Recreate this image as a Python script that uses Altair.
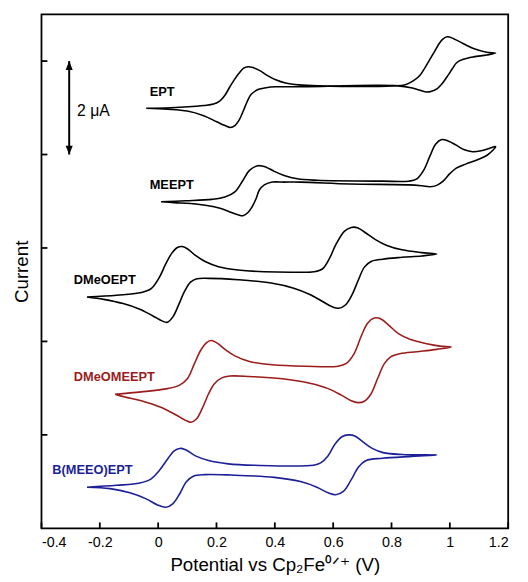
import altair as alt
import pandas as pd

FONT = "Liberation Sans"

SERIES = ["EPT", "MEEPT", "DMeOEPT", "DMeOMEEPT", "B(MEEO)EPT"]
COLORS = ["#000000", "#000000", "#000000", "#9b1c1c", "#1c1f96"]

# potential (V vs Cp2Fe0/+) and current (uA, offset): forward sweep then return sweep
EPT_FWD_V = [-0.041, 0.043, 0.156, 0.190, 0.212, 0.229, 0.246, 0.263, 0.280, 0.293, 0.308, 0.325, 0.347, 0.375, 0.403, 0.437, 0.482, 0.550, 0.808, 0.845, 0.873, 0.897, 0.914, 0.932, 0.950, 0.964, 0.976, 0.991, 1.013, 1.047, 1.081, 1.126, 1.157]
EPT_FWD_I = [8.99, 9.00, 9.05, 9.08, 9.15, 9.27, 9.45, 9.62, 9.76, 9.85, 9.88, 9.86, 9.80, 9.69, 9.60, 9.53, 9.49, 9.47, 9.47, 9.49, 9.57, 9.69, 9.85, 10.04, 10.23, 10.38, 10.47, 10.52, 10.48, 10.37, 10.27, 10.19, 10.17]
EPT_REV_V = [1.126, 1.081, 1.047, 1.024, 1.008, 0.991, 0.974, 0.957, 0.935, 0.918, 0.895, 0.867, 0.822, 0.743, 0.471, 0.403, 0.370, 0.342, 0.319, 0.305, 0.291, 0.277, 0.263, 0.248, 0.229, 0.201, 0.156, 0.100, 0.032, -0.041]
EPT_REV_I = [10.13, 10.09, 10.04, 9.97, 9.83, 9.67, 9.52, 9.41, 9.35, 9.34, 9.38, 9.43, 9.47, 9.48, 9.45, 9.45, 9.43, 9.39, 9.29, 9.13, 8.92, 8.73, 8.62, 8.58, 8.62, 8.70, 8.83, 8.93, 8.97, 8.99]

MEEPT_FWD_V = [0.010, 0.094, 0.184, 0.229, 0.263, 0.291, 0.313, 0.342, 0.370, 0.398, 0.432, 0.477, 0.544, 0.769, 0.859, 0.887, 0.910, 0.932, 0.951, 0.972, 0.994, 1.022, 1.050, 1.078, 1.107, 1.135, 1.157]
MEEPT_FWD_I = [6.99, 7.01, 7.04, 7.09, 7.20, 7.45, 7.66, 7.76, 7.73, 7.64, 7.55, 7.48, 7.45, 7.43, 7.43, 7.48, 7.66, 7.97, 8.22, 8.32, 8.29, 8.20, 8.10, 8.06, 8.08, 8.13, 8.17]
MEEPT_REV_V = [1.129, 1.095, 1.056, 1.022, 1.000, 0.977, 0.955, 0.932, 0.904, 0.859, 0.657, 0.488, 0.432, 0.392, 0.364, 0.347, 0.336, 0.322, 0.308, 0.291, 0.274, 0.251, 0.212, 0.167, 0.111, 0.055, 0.010]
MEEPT_REV_I = [7.99, 7.89, 7.80, 7.71, 7.59, 7.43, 7.34, 7.31, 7.33, 7.35, 7.37, 7.41, 7.41, 7.41, 7.35, 7.24, 7.06, 6.88, 6.76, 6.69, 6.71, 6.76, 6.85, 6.91, 6.95, 6.97, 6.99]

DMEOEPT_FWD_V = [-0.244, -0.142, -0.063, -0.024, 0.004, 0.026, 0.047, 0.066, 0.083, 0.103, 0.128, 0.161, 0.207, 0.274, 0.364, 0.477, 0.533, 0.563, 0.586, 0.610, 0.639, 0.662, 0.685, 0.712, 0.745, 0.782, 0.836, 0.904, 0.955]
DMEOEPT_FWD_I = [4.95, 4.99, 5.04, 5.13, 5.37, 5.66, 5.89, 6.01, 6.03, 5.97, 5.84, 5.71, 5.60, 5.53, 5.49, 5.48, 5.49, 5.55, 5.76, 6.08, 6.36, 6.44, 6.43, 6.32, 6.18, 6.06, 5.96, 5.90, 5.87]
DMEOEPT_REV_V = [0.904, 0.836, 0.769, 0.730, 0.707, 0.686, 0.664, 0.642, 0.619, 0.597, 0.562, 0.522, 0.465, 0.387, 0.274, 0.173, 0.133, 0.111, 0.092, 0.072, 0.051, 0.032, 0.013, -0.019, -0.063, -0.120, -0.187, -0.244]
DMEOEPT_REV_I = [5.83, 5.80, 5.76, 5.71, 5.59, 5.31, 4.99, 4.78, 4.71, 4.74, 4.86, 5.00, 5.14, 5.25, 5.32, 5.35, 5.34, 5.27, 5.09, 4.81, 4.53, 4.41, 4.44, 4.55, 4.69, 4.81, 4.90, 4.95]

DMEOMEEPT_FWD_V = [-0.148, -0.058, 0.032, 0.072, 0.100, 0.124, 0.145, 0.165, 0.181, 0.201, 0.229, 0.263, 0.313, 0.392, 0.505, 0.617, 0.645, 0.671, 0.696, 0.718, 0.741, 0.764, 0.792, 0.825, 0.865, 0.921, 0.966, 1.005]
DMEOMEEPT_FWD_I = [2.87, 2.92, 2.99, 3.06, 3.20, 3.52, 3.80, 3.97, 4.02, 3.97, 3.83, 3.69, 3.57, 3.50, 3.47, 3.47, 3.53, 3.73, 4.11, 4.39, 4.50, 4.48, 4.34, 4.16, 4.04, 3.95, 3.90, 3.88]
DMEOMEEPT_REV_V = [0.955, 0.887, 0.831, 0.797, 0.775, 0.752, 0.730, 0.707, 0.685, 0.662, 0.628, 0.583, 0.516, 0.426, 0.313, 0.246, 0.218, 0.192, 0.173, 0.150, 0.131, 0.113, 0.094, 0.060, 0.009, -0.058, -0.114, -0.148]
DMEOMEEPT_REV_I = [3.83, 3.78, 3.74, 3.67, 3.52, 3.20, 2.88, 2.72, 2.69, 2.73, 2.85, 2.99, 3.11, 3.20, 3.25, 3.26, 3.22, 3.09, 2.88, 2.55, 2.34, 2.27, 2.31, 2.43, 2.59, 2.73, 2.81, 2.87]

BMEEOEPT_FWD_V = [-0.244, -0.142, -0.063, -0.024, 0.004, 0.032, 0.055, 0.074, 0.094, 0.128, 0.173, 0.240, 0.330, 0.533, 0.557, 0.582, 0.606, 0.630, 0.653, 0.676, 0.702, 0.734, 0.771, 0.836, 0.955]
BMEEOEPT_FWD_I = [0.88, 0.92, 0.97, 1.06, 1.24, 1.48, 1.66, 1.71, 1.68, 1.55, 1.45, 1.38, 1.35, 1.35, 1.40, 1.55, 1.80, 1.96, 2.00, 1.97, 1.85, 1.71, 1.62, 1.58, 1.57]
BMEEOEPT_REV_V = [0.870, 0.769, 0.713, 0.687, 0.661, 0.635, 0.609, 0.583, 0.544, 0.488, 0.398, 0.251, 0.161, 0.122, 0.096, 0.074, 0.051, 0.026, -0.002, -0.041, -0.097, -0.165, -0.244]
BMEEOEPT_REV_I = [1.54, 1.50, 1.45, 1.31, 1.03, 0.79, 0.72, 0.76, 0.88, 1.00, 1.09, 1.14, 1.15, 1.12, 0.99, 0.74, 0.53, 0.45, 0.50, 0.63, 0.76, 0.85, 0.88]

# curve labels (left edge, vertical centre)
LABEL_V = [-0.029, -0.029, -0.289, -0.289, -0.363]
LABEL_I = [9.33, 7.35, 5.31, 3.24, 1.24]

# scale bar (2 uA)
BAR_V = -0.305
BAR_I = [8.0, 10.0]
BAR_TEXT = "2 μA"
BAR_TEXT_V = -0.278
BAR_TEXT_I = 8.94

X_TICKS = [-0.4, -0.2, 0.0, 0.2, 0.4, 0.6, 0.8, 1.0, 1.2]
Y_TICKS = [2, 4, 6, 8, 10]

curves = [
    ("EPT", EPT_FWD_V + EPT_REV_V, EPT_FWD_I + EPT_REV_I),
    ("MEEPT", MEEPT_FWD_V + MEEPT_REV_V, MEEPT_FWD_I + MEEPT_REV_I),
    ("DMeOEPT", DMEOEPT_FWD_V + DMEOEPT_REV_V, DMEOEPT_FWD_I + DMEOEPT_REV_I),
    ("DMeOMEEPT", DMEOMEEPT_FWD_V + DMEOMEEPT_REV_V, DMEOMEEPT_FWD_I + DMEOMEEPT_REV_I),
    ("B(MEEO)EPT", BMEEOEPT_FWD_V + BMEEOEPT_REV_V, BMEEOEPT_FWD_I + BMEEOEPT_REV_I),
]
rows = []
for name, vs, cs in curves:
    for k, (v, c) in enumerate(zip(vs, cs)):
        rows.append({"compound": name, "E": v, "I": c, "k": k})
df = pd.DataFrame(rows)

labels_df = pd.DataFrame({"compound": SERIES, "E": LABEL_V, "I": LABEL_I})
bar_df = pd.DataFrame({"E": [BAR_V, BAR_V], "I": BAR_I})
bar_text_df = pd.DataFrame({"E": [BAR_TEXT_V], "I": [BAR_TEXT_I], "t": [BAR_TEXT]})
xt_df = pd.DataFrame({"E": X_TICKS})
yt_df = pd.DataFrame({"I": Y_TICKS})

W, H = 474, 522
xscale = alt.Scale(domain=[-0.4, 1.2], nice=False, zero=False)
yscale = alt.Scale(domain=[0, 11], nice=False, zero=False)
cscale = alt.Scale(domain=SERIES, range=COLORS)

xaxis = alt.Axis(
    values=X_TICKS, labelExpr="'' + datum.value", ticks=False, domain=False, grid=False,
    labelFontSize=14.5, labelPadding=7, labelColor="black", labelFont=FONT,
    title="Potential vs Cp₂Fe⁰ᐟ⁺ (V)", titleFontSize=19, titleFontWeight="normal",
    titleFont=FONT, titleColor="black", titleBaseline="alphabetic", titleY=43, titleX=W / 2,
    titleAlign="center",
)
yaxis = alt.Axis(
    labels=False, ticks=False, domain=False, grid=False,
    title="Current", titleFontSize=19, titleFontWeight="normal", titleFont=FONT,
    titleColor="black", titleBaseline="alphabetic", titleX=-14, titleY=H / 2,
    titleAngle=270, titleAlign="center",
)

x = alt.X("E:Q", scale=xscale, axis=xaxis)
y = alt.Y("I:Q", scale=yscale, axis=yaxis)

lines = alt.Chart(df).mark_line(interpolate="catmull-rom", strokeWidth=1.6).encode(
    x=x, y=y,
    color=alt.Color("compound:N", scale=cscale, legend=None),
    detail="compound:N",
    order="k:Q",
)

labels = alt.Chart(labels_df).mark_text(
    align="left", baseline="middle", fontSize=13, fontWeight="bold", font=FONT
).encode(
    x=alt.X("E:Q", scale=xscale), y=alt.Y("I:Q", scale=yscale),
    text="compound:N",
    color=alt.Color("compound:N", scale=cscale, legend=None),
)

bar_rule = alt.Chart(bar_df).mark_line(color="black", strokeWidth=2).encode(
    x=alt.X("E:Q", scale=xscale), y=alt.Y("I:Q", scale=yscale)
)
UP = "M0,0L-0.4,1L0.4,1Z"
DOWN = "M0,0L-0.4,-1L0.4,-1Z"
head_up = alt.Chart(bar_df[bar_df["I"] == max(BAR_I)]).mark_point(
    shape=UP, filled=True, size=324, color="black", opacity=1, strokeWidth=0
).encode(x=alt.X("E:Q", scale=xscale), y=alt.Y("I:Q", scale=yscale))
head_down = alt.Chart(bar_df[bar_df["I"] == min(BAR_I)]).mark_point(
    shape=DOWN, filled=True, size=324, color="black", opacity=1, strokeWidth=0
).encode(x=alt.X("E:Q", scale=xscale), y=alt.Y("I:Q", scale=yscale))
bar_text = alt.Chart(bar_text_df).mark_text(
    align="left", baseline="middle", fontSize=16, font=FONT, color="black"
).encode(x=alt.X("E:Q", scale=xscale), y=alt.Y("I:Q", scale=yscale), text="t:N")

xticks = alt.Chart(xt_df).mark_rule(color="black", strokeWidth=1.8).encode(
    x=alt.X("E:Q", scale=xscale), y=alt.value(H), y2=alt.value(H - 6)
)
yticks = alt.Chart(yt_df).mark_rule(color="black", strokeWidth=1.8).encode(
    y=alt.Y("I:Q", scale=yscale), x=alt.value(0), x2=alt.value(6)
)

chart = alt.layer(
    lines, labels, bar_rule, head_up, head_down, bar_text, xticks, yticks
).properties(
    width=W, height=H,
    autosize=alt.AutoSizeParams(type="none"),
    padding={"left": 34, "top": 2, "right": 12, "bottom": 46},
).configure(font=FONT).configure_view(stroke="black", strokeWidth=1.8)

chart.save("out.html", embed_options={"renderer": "svg", "actions": False})
